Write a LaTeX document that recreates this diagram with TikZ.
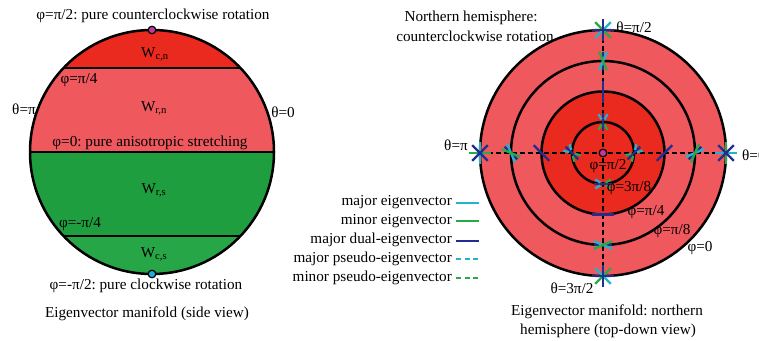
\documentclass[tikz,border=0pt]{standalone}
\usepackage{fontspec}
\setmainfont{Liberation Serif}
\definecolor{dred}{RGB}{234,42,30}
\definecolor{lred}{RGB}{239,88,92}
\definecolor{dgreen}{RGB}{30,158,62}
\definecolor{lgreen}{RGB}{38,166,70}
\definecolor{mcyan}{RGB}{35,180,205}
\definecolor{mgreen}{RGB}{40,170,70}
\definecolor{mblue}{RGB}{35,45,145}
\definecolor{dotmag}{RGB}{190,60,160}
\definecolor{dotcyan}{RGB}{30,175,220}
\newcommand\labfont{\fontsize{15.2}{18}\selectfont}
\frenchspacing
\tikzset{
  lab/.style={font=\labfont, inner sep=0pt},
  ring/.style={draw=black, line width=2.5pt},
  axis/.style={black, line width=2pt, dash pattern=on 5pt off 3pt},
  mk/.style={line width=2.3pt},
  pdash/.style={line width=2.2pt},
  legline/.style={line width=2.8pt},
  legdash/.style={line width=2.8pt, dash pattern=on 5pt off 3.5pt},
  dotstyle/.style={draw=black, line width=1.2pt}
}
\begin{document}
\begin{tikzpicture}[x=1pt,y=-1pt]
\useasboundingbox (0,0) rectangle (759,340);
\fill[white] (0,0) rectangle (759,340);

% ---------------- left: side view ----------------
\coordinate (L) at (152,152);
\begin{scope}
  \clip (L) circle (122pt);
  \fill[dred]   (20,20)  rectangle (290,68);
  \fill[lred]   (20,68)  rectangle (290,152);
  \fill[dgreen] (20,152) rectangle (290,236);
  \fill[lgreen] (20,236) rectangle (290,290);
  \draw[line width=2.5pt] (20,68) -- (290,68);
  \draw[line width=2.5pt] (20,152) -- (290,152);
  \draw[line width=2.5pt] (20,236) -- (290,236);
\end{scope}
\draw[ring] (L) circle (122pt);
\fill[dotmag,dotstyle] (152,30) circle (3.8pt);
\fill[dotcyan,dotstyle] (152,274) circle (3.8pt);

\node[lab] (t1) at (153,16) {φ=π/2: pure counterclockwise rotation};
\node[lab] (t2) at (79,80) {φ=π/4};
\node[lab] (t3) at (24,109) {θ=π};
\node[lab] (t4) at (283,112) {θ=0};
\node[lab] (wcn) at (155,54) {W\textsubscript{c,n}};
\node[lab] (wrn) at (154,108) {W\textsubscript{r,n}};
\node[lab] (t5) at (150,143) {φ=0: pure anisotropic stretching};
\node[lab] (wrs) at (154,190) {W\textsubscript{r,s}};
\node[lab] (t6) at (80,224) {φ=-π/4};
\node[lab] (wcs) at (154,254) {W\textsubscript{c,s}};
\node[lab] (t7) at (146,286) {φ=-π/2: pure clockwise rotation};
\node[lab] (cap1) at (147,314) {Eigenvector manifold (side view)};

% ---------------- right: top-down view ----------------
\node[lab] (nh1) at (471,18) {Northern hemisphere:};
\node[lab] (nh2) at (475,36) {counterclockwise rotation};

\coordinate (R) at (603,153);
\fill[lred] (R) circle (123pt);
\fill[dred] (R) circle (61.5pt);
\draw[ring] (R) circle (123pt);
\draw[ring] (R) circle (92pt);
\draw[ring] (R) circle (61.5pt);
\draw[ring] (R) circle (31pt);
\draw[axis] (480,153) -- (726,153);
\draw[axis] (603,30) -- (603,276);

\foreach \t in {0,90,180,270}{
  \pgfmathsetmacro\rr{\t/2}
  % phi = 0
  \path (R) ++(\t:123pt) coordinate (P);
  \draw[mcyan,mk]  (P) ++(\rr:11pt) -- ++(\rr+180:22pt);
  \draw[mgreen,mk] (P) ++(\rr+90:11pt) -- ++(\rr+270:22pt);
  \draw[mblue,mk]  (P) ++(\rr+45:11pt) -- ++(\rr+225:22pt);
  \draw[mblue,mk]  (P) ++(\rr+135:11pt) -- ++(\rr+315:22pt);
  % phi = pi/8
  \path (R) ++(\t:92pt) coordinate (P);
  \draw[mblue,mk]  (P) ++(\rr+45:9pt) -- ++(\rr+225:18pt);
  \draw[mcyan,mk]  (P) ++(\rr+22.5:10pt) -- ++(\rr+202.5:20pt);
  \draw[mgreen,mk] (P) ++(\rr+67.5:10pt) -- ++(\rr+247.5:20pt);
  % phi = pi/4
  \path (R) ++(\t:61.5pt) coordinate (P);
  \draw[mblue,mk]  (P) ++(\rr+45:11pt) -- ++(\rr+225:22pt);
  % phi = 3pi/8
  \path (R) ++(\t:31pt) coordinate (P);
  \draw[mblue,mk]  (P) ++(\rr+45:9pt) -- ++(\rr+225:18pt);
  \draw[mcyan,pdash]  (P) ++(\rr+75:3pt) -- ++(\rr+75:6pt);
  \draw[mcyan,pdash]  (P) ++(\rr+15:3pt) -- ++(\rr+15:6pt);
  \draw[mgreen,pdash] (P) ++(\rr+255:3pt) -- ++(\rr+255:6pt);
  \draw[mgreen,pdash] (P) ++(\rr+195:3pt) -- ++(\rr+195:6pt);
}
\fill[dotmag,dotstyle] (R) circle (3.8pt);

\node[lab] (th1) at (634,27) {θ=π/2};
\node[lab] (th2) at (456,145) {θ=π};
\node[lab,anchor=west] (th3) at (742,155) {θ=0};
\node[lab] (th4) at (572,288) {θ=3π/2};
\node[lab] (p1) at (608,166) {φ=π/2};
\node[lab] (p2) at (629,188) {φ=3π/8};
\node[lab] (p3) at (646,212) {φ=π/4};
\node[lab] (p4) at (672,231) {φ=π/8};
\node[lab] (p5) at (700,248) {φ=0};
\node[lab] (cap2) at (607,312) {Eigenvector manifold: northern};
\node[lab] (cap3) at (608,331) {hemisphere (top-down view)};

% ---------------- legend ----------------
\node[lab,anchor=east] (lg1) at (452,202) {major eigenvector};
\node[lab,anchor=east] (lg2) at (452,221) {minor eigenvector};
\node[lab,anchor=east] (lg3) at (452,240) {major dual-eigenvector};
\node[lab,anchor=east] (lg4) at (452,259) {major pseudo-eigenvector};
\node[lab,anchor=east] (lg5) at (452,278) {minor pseudo-eigenvector};
\coordinate (a1) at (456,203); \coordinate (b1) at (479,203);
\coordinate (a2) at (456,221); \coordinate (b2) at (479,221);
\coordinate (a3) at (456,241); \coordinate (b3) at (479,241);
\coordinate (a4) at (456,259); \coordinate (b4) at (479,259);
\coordinate (a5) at (456,278); \coordinate (b5) at (479,278);
\draw[mcyan,legline] (a1) -- (b1);
\draw[mgreen,legline] (a2) -- (b2);
\draw[mblue,legline] (a3) -- (b3);
\draw[mcyan,legdash] (a4) -- (b4);
\draw[mgreen,legdash] (a5) -- (b5);
\end{tikzpicture}
\end{document}
